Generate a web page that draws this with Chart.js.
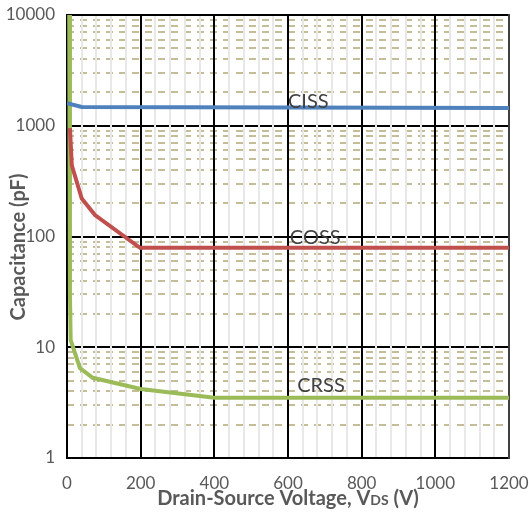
<!DOCTYPE html>
<html>
<head>
<meta charset="utf-8">
<script src="https://cdn.jsdelivr.net/npm/chart.js@4"></script>
<style>
  html, body { margin: 0; padding: 0; background: #fff; }
  #wrap { position: relative; width: 529px; height: 518px; }
</style>
</head>
<body>
<div id="wrap"><canvas id="capChart"></canvas></div>
<script>
'use strict';

// Capacitance vs drain-source voltage
var CISS_V = [0, 40, 600, 1200];
var CISS_PF = [1600, 1480, 1460, 1450];

var COSS_V = [8, 13, 40, 76, 198, 1200];
var COSS_PF = [950, 440, 220, 156, 79, 79];

var CRSS_V = [6, 8, 10, 35, 70, 200, 400, 1200];
var CRSS_PF = [10000, 30, 11.6, 6.5, 5.3, 4.2, 3.5, 3.5];

var SERIES_NAMES = ['CISS', 'COSS', 'CRSS'];
var SERIES_COLORS = ['#4f81bd', '#c0504d', '#9bbb59'];
// where each curve name sits (V, pF)
var LABEL_V = [600, 605, 625];
var LABEL_PF = [1460, 85, 3.95];

var X_TICKS = [0, 200, 400, 600, 800, 1000, 1200];
var Y_TICKS = [1, 10, 100, 1000, 10000];
var X_MINOR_STEP = 40;
var Y_MINOR = [2, 3, 4, 5, 6, 7, 8, 9];

var FONT = 'Lato, "Open Sans", sans-serif';

function pts(xs, ys) {
  return xs.map(function (x, i) { return { x: x, y: ys[i] }; });
}

// scales report no label overflow, so layout padding alone sets the plot box
function noOverflow(s) {
  s.paddingLeft = 0; s.paddingRight = 0;
  s.paddingTop = 0; s.paddingBottom = 0;
}

// grid drawn by hand: khaki dashed minors, black majors, pale verticals
var gridPlugin = {
  id: 'capGrid',
  beforeDatasetsDraw: function (chart) {
    var ctx = chart.ctx, a = chart.chartArea;
    var xs = chart.scales.x, ys = chart.scales.y;
    ctx.save();

    // minor horizontal dashes
    ctx.strokeStyle = '#c4bd97';
    ctx.lineWidth = 2;
    ctx.setLineDash([7, 6]);
    for (var d = 0; d < Y_TICKS.length - 1; d++) {
      Y_MINOR.forEach(function (m) {
        var y = Math.round(ys.getPixelForValue(Y_TICKS[d] * m));
        ctx.beginPath(); ctx.moveTo(a.left, y); ctx.lineTo(a.right, y); ctx.stroke();
      });
    }
    ctx.setLineDash([]);

    // major horizontal lines
    ctx.strokeStyle = '#000';
    ctx.lineWidth = 2;
    Y_TICKS.forEach(function (v) {
      var y = Math.round(ys.getPixelForValue(v));
      ctx.beginPath(); ctx.moveTo(a.left, y); ctx.lineTo(a.right, y); ctx.stroke();
    });

    // pale minor verticals
    ctx.strokeStyle = '#e8e8e8';
    ctx.lineWidth = 2;
    for (var v = X_MINOR_STEP; v < 1200; v += X_MINOR_STEP) {
      if (v % 200 === 0) continue;
      var x = Math.round(xs.getPixelForValue(v));
      ctx.beginPath(); ctx.moveTo(x, a.top + 1); ctx.lineTo(x, a.bottom - 1); ctx.stroke();
    }

    // major verticals
    ctx.strokeStyle = '#000';
    X_TICKS.forEach(function (v) {
      var x = Math.round(xs.getPixelForValue(v));
      if (v === 1200) ctx.strokeStyle = '#404040';
      ctx.beginPath(); ctx.moveTo(x, a.top - 1); ctx.lineTo(x, a.bottom + 1); ctx.stroke();
    });
    ctx.restore();
  },
  afterDatasetsDraw: function (chart) {
    var ctx = chart.ctx;
    var xs = chart.scales.x, ys = chart.scales.y;
    ctx.save();

    // curve names
    ctx.fillStyle = '#404040';
    ctx.font = '20px ' + FONT;
    ctx.textAlign = 'left';
    ctx.textBaseline = 'alphabetic';
    SERIES_NAMES.forEach(function (n, i) {
      ctx.fillText(n, xs.getPixelForValue(LABEL_V[i]), ys.getPixelForValue(LABEL_PF[i]));
    });

    // y axis title
    ctx.fillStyle = '#595959';
    ctx.font = 'bold 20px ' + FONT;
    ctx.textAlign = 'center';
    ctx.textBaseline = 'middle';
    ctx.save();
    ctx.translate(19, 247);
    ctx.rotate(-Math.PI / 2);
    ctx.fillText('Capacitance (pF)', 0, 0);
    ctx.restore();

    // x axis title with smaller DS letters
    var parts = [
      ['Drain-Source Voltage, V', 'bold 20px '],
      ['DS', 'bold 14px '],
      [' (V)', 'bold 20px ']
    ];
    var total = 0;
    parts.forEach(function (p) { ctx.font = p[1] + FONT; total += ctx.measureText(p[0]).width; });
    var x0 = 288 - total / 2;
    ctx.textAlign = 'left';
    ctx.textBaseline = 'alphabetic';
    parts.forEach(function (p) {
      ctx.font = p[1] + FONT;
      ctx.fillText(p[0], x0, 505);
      x0 += ctx.measureText(p[0]).width;
    });
    ctx.restore();
  }
};

var datasets = [
  pts(CISS_V, CISS_PF),
  pts(COSS_V, COSS_PF),
  pts(CRSS_V, CRSS_PF)
].map(function (d, i) {
  return {
    label: SERIES_NAMES[i],
    data: d,
    borderColor: SERIES_COLORS[i],
    backgroundColor: SERIES_COLORS[i],
    borderWidth: 4,
    pointRadius: 0,
    tension: 0,
    fill: false
  };
});

new Chart(document.getElementById('capChart'), {
  type: 'line',
  data: { datasets: datasets },
  plugins: [gridPlugin],
  options: {
    responsive: true,
    maintainAspectRatio: false,
    animation: false,
    layout: { padding: { top: 15, right: 20, left: 0, bottom: 0 } },
    plugins: { legend: { display: false }, tooltip: { enabled: false } },
    scales: {
      x: {
        type: 'linear',
        min: 0, max: 1200,
        grid: { display: false, drawTicks: false },
        border: { display: false },
        afterBuildTicks: function (s) {
          s.ticks = X_TICKS.map(function (v) { return { value: v }; });
        },
        ticks: {
          autoSkip: false,
          maxRotation: 0,
          padding: 15,
          color: '#595959',
          font: { family: FONT, size: 17 },
          callback: function (v) { return String(v); }
        },
        afterFit: function (s) { s.height = 60; noOverflow(s); }
      },
      y: {
        type: 'logarithmic',
        min: 1, max: 10000,
        grid: { display: false, drawTicks: false },
        border: { display: false },
        afterBuildTicks: function (s) {
          s.ticks = Y_TICKS.map(function (v) { return { value: v }; });
        },
        ticks: {
          autoSkip: false,
          padding: 12,
          color: '#595959',
          font: { family: FONT, size: 17 },
          callback: function (v) { return String(v); }
        },
        afterFit: function (s) { s.width = 67; noOverflow(s); }
      }
    }
  }
});
</script>
</body>
</html>
